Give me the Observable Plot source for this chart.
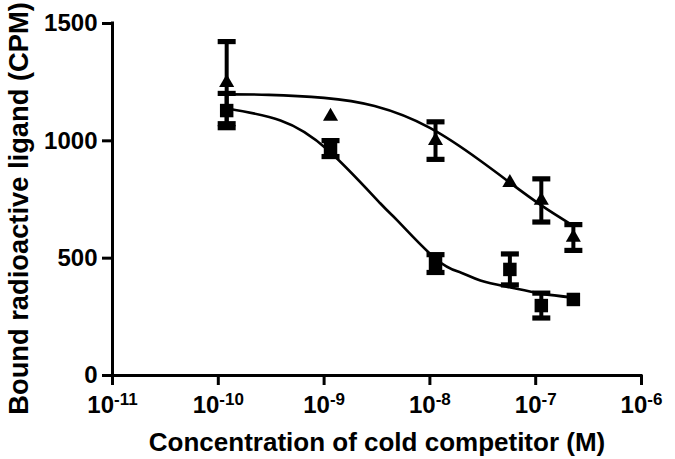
<!DOCTYPE html>
<html>
<head>
<meta charset="utf-8">
<script src="https://cdn.jsdelivr.net/npm/d3@7"></script>
<script src="https://cdn.jsdelivr.net/npm/@observablehq/plot@0.6"></script>
<style>
  html, body { margin: 0; padding: 0; background: white; }
  #chart svg { font-family: "Liberation Sans", Arial, sans-serif; font-weight: bold; }
</style>
</head>
<body>
<div id="chart"></div>
<script>
// Concentrations of cold competitor (M)
const conc = [1.2e-10, 1.15e-9, 1.13e-8, 5.7e-8, 1.13e-7, 2.27e-7];

// Triangle series (mean and error)
const triMean = [1248, 1104, 1001, 822, 746, 588];
const triErr  = [175, 0, 80, 0, 92, 55];

// Square series (mean and error)
const sqMean = [1129, 967, 477, 452, 298, 324];
const sqErr  = [73, 34, 38, 66, 53, 0];

// Fitted curves
const triCurveX = [1.2e-10, 3e-10, 1e-9, 3e-9, 1e-8, 3e-8, 5.7e-8, 1.13e-7, 2.27e-7];
const triCurveY = [1198, 1196, 1183, 1148, 1055, 915, 822, 725, 638];
const sqCurveX  = [1.22e-10, 3.87e-10, 1.1e-9, 3.41e-9, 4.94e-9, 1.13e-8, 1.95e-8, 3e-8, 5.78e-8, 1.13e-7, 2.28e-7];
const sqCurveY  = [1138, 1087, 959, 733, 660, 498, 439, 405, 375, 349, 332];

// Axes
const xTicks = [1e-11, 1e-10, 1e-9, 1e-8, 1e-7, 1e-6];
const yTicks = [0, 500, 1000, 1500];
const xTitle = "Concentration of cold competitor (M)";
const yTitle = "Bound radioactive ligand (CPM)";

const tri = conc.map((x, i) => ({x, y: triMean[i], e: triErr[i]}));
const sq  = conc.map((x, i) => ({x, y: sqMean[i], e: sqErr[i]}));
const triCurve = triCurveX.map((x, i) => ({x, y: triCurveY[i]}));
const sqCurve  = sqCurveX.map((x, i) => ({x, y: sqCurveY[i]}));

const capSymbol = {
  draw(ctx, size) {
    const w = 9, h = 2.6;
    ctx.moveTo(-w, -h); ctx.lineTo(w, -h); ctx.lineTo(w, h); ctx.lineTo(-w, h); ctx.closePath();
  }
};

const bars = [...tri, ...sq].filter(d => d.e > 0);

const chart = Plot.plot({
  width: 675,
  height: 459,
  marginLeft: 112,
  marginRight: 34,
  marginTop: 23,
  marginBottom: 84,
  style: "font-family: 'Liberation Sans', Arial, sans-serif; font-weight: bold; background: white; color: black;",
  x: {type: "log", domain: [1e-11, 1e-6]},
  y: {domain: [0, 1500]},
  marks: [
    Plot.ruleX([1e-11], {y1: 0, y2: 1500, strokeWidth: 3, strokeLinecap: "square"}),
    Plot.ruleY([0], {x1: 1e-11, x2: 1e-6, strokeWidth: 3, strokeLinecap: "square"}),
    Plot.axisX({ticks: xTicks, tickSize: 10, tickPadding: 10, strokeWidth: 3, fontSize: 24, label: null,
      tickFormat: d => "10^" + Math.round(Math.log10(d))}),
    Plot.axisY({ticks: yTicks, tickSize: 10, tickPadding: 5, strokeWidth: 3, fontSize: 24, label: null,
      tickFormat: d => String(d)}),
    Plot.line(triCurve, {x: "x", y: "y", curve: "natural", strokeWidth: 2.6}),
    Plot.line(sqCurve, {x: "x", y: "y", curve: "natural", strokeWidth: 2.6}),
    Plot.ruleX(bars, {x: "x", y1: d => d.y - d.e, y2: d => d.y + d.e, strokeWidth: 4}),
    Plot.dot(bars, {x: "x", y: d => d.y - d.e, symbol: capSymbol, fill: "black", r: 5}),
    Plot.dot(bars, {x: "x", y: d => d.y + d.e, symbol: capSymbol, fill: "black", r: 5}),
    Plot.dot(tri, {x: "x", y: "y", symbol: "triangle", fill: "black", r: 5.6}),
    Plot.dot(sq, {x: "x", y: "y", symbol: "square", fill: "black", r: 7.6}),
    Plot.text([xTitle], {frameAnchor: "bottom", textAnchor: "middle", dy: 75, lineAnchor: "bottom", fontSize: 26, fontWeight: "bold"}),
    Plot.text([yTitle], {frameAnchor: "left", textAnchor: "middle", rotate: -90, dx: -85, dy: 9, lineAnchor: "bottom", fontSize: 27.3, fontWeight: "bold"})
  ]
});

document.getElementById("chart").appendChild(chart);

// Render exponents as superscripts
d3.select(chart).selectAll('g[aria-label="x-axis tick label"] text').each(function() {
  const t = d3.select(this);
  const s = t.text();
  const m = s.match(/^10\^(-?\d+)$/);
  if (!m) return;
  t.text(null);
  t.append("tspan").text("10");
  t.append("tspan").attr("dy", "-0.45em").attr("font-size", "17px").text(m[1]);
});
</script>
</body>
</html>
